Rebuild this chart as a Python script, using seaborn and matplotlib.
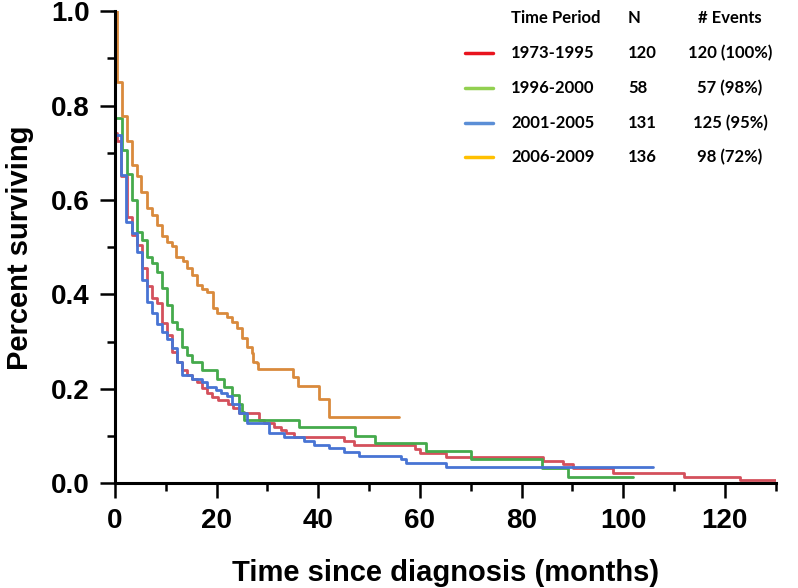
import pandas as pd
import seaborn as sns
import matplotlib.pyplot as plt
from matplotlib.ticker import MultipleLocator

# Kaplan-Meier trinn lest av figuren (tid i måneder, andel overlevende fra og med den tiden)
periods = ["1973-1995", "1996-2000", "2001-2005", "2006-2009"]
n_patients = ["120", "58", "131", "136"]
n_events = ["120 (100%)", "57 (98%)", "125 (95%)", "98 (72%)"]

t_1973 = [0, 0, 0.4, 1.2, 2.3, 3.3, 4.3, 5.3, 6.3, 7.3, 8.3, 9.2, 10.2, 11.2, 12.2, 13.2,
          14.2, 15.2, 16.2, 17.2, 18.2, 19.2, 20.2, 22.2, 23.2, 24.4, 28.3, 29.3, 31.3,
          32.6, 33.6, 35.2, 45.1, 47.0, 59.0, 60.1, 65.1, 84.3, 88.1, 90.1, 98.0, 111.9,
          123.0, 130.0]
s_1973 = [1.0, 0.742, 0.724, 0.650, 0.565, 0.526, 0.505, 0.456, 0.417, 0.392, 0.381, 0.339,
          0.314, 0.279, 0.258, 0.240, 0.229, 0.222, 0.215, 0.201, 0.191, 0.183, 0.176, 0.169,
          0.159, 0.148, 0.134, 0.127, 0.120, 0.113, 0.106, 0.099, 0.090, 0.081, 0.072, 0.064,
          0.055, 0.047, 0.040, 0.032, 0.022, 0.014, 0.007, 0.007]

t_1996 = [0, 0, 1.35, 2.35, 3.3, 4.3, 5.3, 6.3, 7.3, 8.3, 9.2, 10.2, 11.2, 12.2, 13.2, 14.2,
          15.2, 17.1, 20.1, 21.4, 23.1, 24.4, 25.0, 25.3, 36.2, 47.2, 51.1, 61.2, 70.1,
          84.0, 89.1, 102.0]
s_1996 = [1.0, 0.773, 0.705, 0.655, 0.600, 0.533, 0.515, 0.480, 0.466, 0.448, 0.413, 0.378,
          0.342, 0.326, 0.289, 0.272, 0.258, 0.240, 0.222, 0.205, 0.187, 0.169, 0.152, 0.135,
          0.120, 0.101, 0.085, 0.068, 0.051, 0.032, 0.014, 0.014]

t_2001 = [0, 0, 1.2, 2.2, 3.3, 4.3, 5.3, 6.3, 7.3, 8.3, 9.2, 10.2, 11.2, 12.2, 13.2, 15.2,
          17.1, 18.1, 19.8, 20.8, 22.1, 23.1, 24.4, 26.0, 30.3, 33.2, 37.2, 39.2, 42.1, 45.1,
          48.0, 56.3, 57.3, 65.1, 105.9]
s_2001 = [1.0, 0.738, 0.653, 0.554, 0.530, 0.491, 0.431, 0.385, 0.360, 0.337, 0.321, 0.305,
          0.286, 0.258, 0.229, 0.222, 0.215, 0.205, 0.198, 0.191, 0.184, 0.169, 0.148, 0.127,
          0.106, 0.099, 0.090, 0.081, 0.074, 0.067, 0.058, 0.051, 0.044, 0.034, 0.034]

t_2006 = [0, 0.45, 1.3, 2.4, 3.3, 4.4, 5.2, 6.4, 7.3, 8.3, 9.2, 10.2, 11.2, 12.1, 13.3, 14.2,
          15.2, 16.2, 17.2, 18.2, 19.3, 20.1, 22.1, 23.1, 24.0, 25.0, 26.0, 26.9, 27.2, 27.9,
          28.2, 35.1, 36.1, 40.1, 42.1, 55.9]
s_2006 = [1.0, 0.851, 0.777, 0.726, 0.675, 0.650, 0.616, 0.584, 0.569, 0.548, 0.523, 0.512,
          0.502, 0.480, 0.470, 0.456, 0.442, 0.420, 0.412, 0.406, 0.371, 0.360, 0.353, 0.342,
          0.328, 0.307, 0.289, 0.275, 0.258, 0.254, 0.243, 0.226, 0.206, 0.178, 0.141, 0.141]

curve_colors = ["#D4505C", "#45AA4C", "#4874D4", "#D98A3C"]
legend_colors = ["#E8141E", "#92D050", "#5B8ED6", "#FFC000"]

frames = []
for name, t, s in zip(periods, [t_1973, t_1996, t_2001, t_2006], [s_1973, s_1996, s_2001, s_2006]):
    frames.append(pd.DataFrame({"months": t, "surv": s, "period": name}))
df = pd.concat(frames, ignore_index=True)

sns.set_style("ticks", {"axes.edgecolor": "black", "xtick.color": "black", "ytick.color": "black",
                        "text.color": "black", "axes.labelcolor": "black"})
plt.rcParams["font.family"] = ["Liberation Sans", "DejaVu Sans"]

fig = plt.figure(figsize=(7.98, 5.88), dpi=100)
ax = fig.add_axes([0.144, 0.178, 0.828, 0.803])

sns.lineplot(data=df, x="months", y="surv", hue="period", palette=curve_colors,
             drawstyle="steps-post", estimator=None, sort=False, legend=False,
             linewidth=2.0, ax=ax)

ax.set_xlim(0, 130)
ax.set_ylim(0, 1.0)
ax.xaxis.set_major_locator(MultipleLocator(20))
ax.xaxis.set_minor_locator(MultipleLocator(10))
ax.yaxis.set_minor_locator(MultipleLocator(0.1))
ax.set_yticks([0, 0.2, 0.4, 0.6, 0.8, 1.0])
ax.set_yticklabels(["0.0", "0.2", "0.4", "0.6", "0.8", "1.0"])
ax.tick_params(which="major", length=11, width=1.8, labelsize=20, pad=7)
ax.tick_params(which="minor", length=5.5, width=1.8)
for lab in ax.get_xticklabels() + ax.get_yticklabels():
    lab.set_fontweight("bold")
for side in ["left", "bottom"]:
    ax.spines[side].set_linewidth(2.2)
sns.despine(ax=ax)
ax.set_xlabel("Time since diagnosis (months)", fontsize=21, fontweight="bold", labelpad=18)
ax.set_ylabel("Percent surviving", fontsize=21, fontweight="bold", labelpad=12)

# tabell-legende oppe til høyre
lfont = ["Lato", "DejaVu Sans"]
fig.text(511 / 798, 1 - 18 / 588, "Time Period", family=lfont, fontweight="bold", fontsize=12, va="center")
fig.text(628 / 798, 1 - 18 / 588, "N", family=lfont, fontweight="bold", fontsize=12, va="center")
fig.text(730 / 798, 1 - 18 / 588, "# Events", family=lfont, fontweight="bold", fontsize=12, va="center", ha="center")
row_y = [53, 88, 123, 157]
for i in range(4):
    yy = 1 - row_y[i] / 588
    fig.add_artist(plt.Line2D([465 / 798, 493 / 798], [yy, yy], color=legend_colors[i], linewidth=2.5))
    fig.text(511 / 798, yy, periods[i], family=lfont, fontweight="bold", fontsize=12, va="center")
    fig.text(628 / 798, yy, n_patients[i], family=lfont, fontweight="bold", fontsize=12, va="center")
    fig.text(730 / 798, yy, n_events[i], family=lfont, fontweight="bold", fontsize=12, va="center", ha="center")

plt.savefig("out.png", dpi=100)
